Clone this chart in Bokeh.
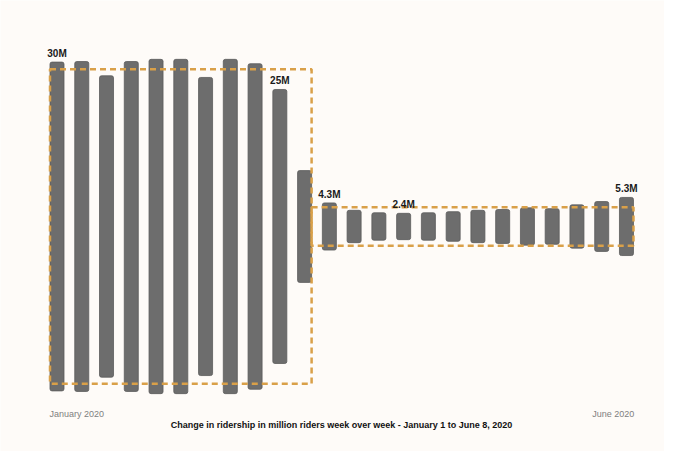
from bokeh.plotting import figure
from bokeh.models import ColumnDataSource, Range1d, Label
from bokeh.core.properties import value
from bokeh.embed import file_html
from bokeh.resources import INLINE

# ---- data ----
week = list(range(24))
riders = [30.0, 30.1, 27.5, 30.1, 30.5, 30.5, 27.2, 30.5, 29.7, 25.0, 10.2, 4.3,
          2.95, 2.5, 2.4, 2.5, 2.7, 2.95, 3.1, 3.4, 3.25, 3.95, 4.55, 5.3]
period_start = [0, 11]
period_end = [10, 23]
period_avg = [28.7, 3.5]
label_week = [0, 9, 11, 14, 23]
label_text = ["30M", "25M", "4.3M", "2.4M", "5.3M"]
axis_labels = ["January 2020", "June 2020"]
caption = "Change in ridership in million riders week over week - January 1 to June 8, 2020"

BG = "#fefbf8"
BAR = "#6d6d6d"
ORANGE = "#d9a049"
FONT = "Liberation Sans"
HW = 0.283

p = figure(width=664, height=451, output_backend="svg", toolbar_location=None,
           x_axis_location=None, y_axis_location=None, min_border=0,
           x_range=Range1d(-2.282, 24.536), y_range=Range1d(-20.53, 20.62))
p.grid.visible = False
p.outline_line_color = None
p.background_fill_color = BG
p.border_fill_color = BG

src = ColumnDataSource(dict(x=week, top=[v / 2 for v in riders], bottom=[-v / 2 for v in riders]))
p.vbar(x="x", top="top", bottom="bottom", width=2 * HW, source=src,
       fill_color=BAR, line_color="#5c5c5c", line_width=0.8, border_radius=2)

# dashed period boxes
left = [period_start[0] - HW, period_end[0] + HW]
right = [period_end[0] + HW, period_end[1] + HW]
qsrc = ColumnDataSource(dict(left=left, right=right,
                             top=[a / 2 for a in period_avg],
                             bottom=[-a / 2 for a in period_avg]))
p.quad(left="left", right="right", top="top", bottom="bottom", source=qsrc,
       fill_color=None, line_color=ORANGE, line_width=2.5, line_dash="6 4")

lsrc = ColumnDataSource(dict(x=label_week, y=[riders[i] / 2 for i in label_week], t=label_text))
p.text(x="x", y="y", text="t", source=lsrc, text_align="center", text_baseline="bottom",
       y_offset=-3, text_font_size="10px", text_font_style="bold", text_color="#1a1a1a",
       text_font=value(FONT))

p.add_layout(Label(x=49, y=37.7, x_units="screen", y_units="screen", text=axis_labels[0],
                   text_align="left", text_baseline="middle", text_font_size="9px",
                   text_color="#808080", text_font=FONT))
p.add_layout(Label(x=633.7, y=37.2, x_units="screen", y_units="screen", text=axis_labels[1],
                   text_align="right", text_baseline="middle", text_font_size="9px",
                   text_color="#808080", text_font=FONT))
p.add_layout(Label(x=341, y=26.7, x_units="screen", y_units="screen", text=caption,
                   text_align="center", text_baseline="middle", text_font_size="9px",
                   text_font_style="bold", text_color="#111111", text_font=FONT))

open("out.html", "w").write(file_html(p, INLINE))
